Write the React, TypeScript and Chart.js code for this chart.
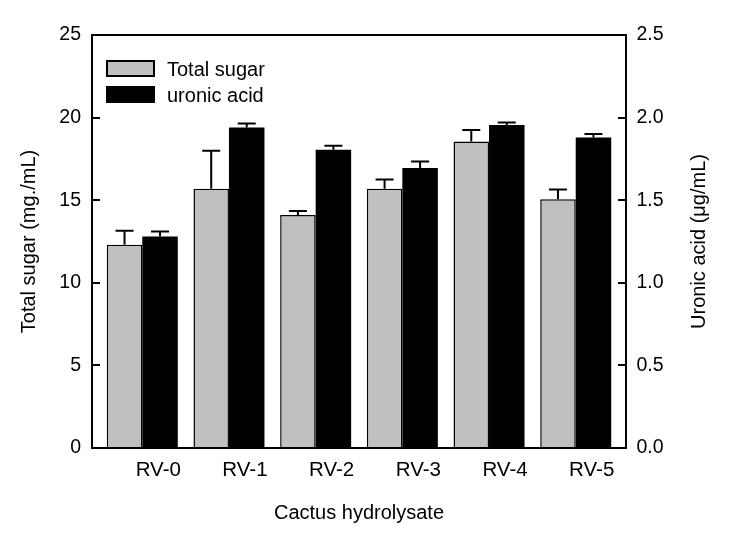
import React, { useEffect, useRef } from "react";
import { Chart, registerables } from "chart.js";

Chart.register(...registerables);

const categories = ["RV-0", "RV-1", "RV-2", "RV-3", "RV-4", "RV-5"];
const totalSugar = [12.3, 15.7, 14.1, 15.7, 18.55, 15.05];
const totalSugarErr = [0.85, 2.3, 0.25, 0.55, 0.7, 0.6];
const uronicAcid = [1.28, 1.94, 1.805, 1.695, 1.955, 1.88];
const uronicAcidErr = [0.03, 0.025, 0.025, 0.04, 0.015, 0.02];
const leftTicks = [0, 5, 10, 15, 20, 25];
const rightTicks = [0, 0.5, 1.0, 1.5, 2.0, 2.5];

const FONT = '"Liberation Sans", Arial, Helvetica, sans-serif';
const errorsByDataset = [totalSugarErr, uronicAcidErr];

const decorPlugin = {
  id: "decor",
  afterDatasetsDraw(chart: any) {
    const ctx = chart.ctx as CanvasRenderingContext2D;
    const a = chart.chartArea;
    ctx.save();
    ctx.strokeStyle = "#000";
    ctx.fillStyle = "#000";
    // error bars
    chart.data.datasets.forEach((ds: any, di: number) => {
      const meta = chart.getDatasetMeta(di);
      const ys = chart.scales[ds.yAxisID];
      const errs = errorsByDataset[di];
      meta.data.forEach((el: any, i: number) => {
        const v = ds.data[i].y;
        const top = ys.getPixelForValue(v + errs[i]);
        ctx.lineWidth = 2;
        ctx.beginPath();
        ctx.moveTo(el.x, el.y);
        ctx.lineTo(el.x, top);
        ctx.moveTo(el.x - 9, top);
        ctx.lineTo(el.x + 9, top);
        ctx.stroke();
      });
    });
    // frame
    ctx.lineWidth = 2;
    ctx.strokeRect(a.left, a.top, a.right - a.left, a.bottom - a.top);
    // inward ticks
    const yl = chart.scales.y;
    leftTicks.forEach((t) => {
      const p = Math.round(yl.getPixelForValue(t));
      ctx.beginPath();
      ctx.moveTo(a.left, p);
      ctx.lineTo(a.left + 8, p);
      ctx.stroke();
    });
    const yr = chart.scales.y1;
    rightTicks.forEach((t) => {
      const p = Math.round(yr.getPixelForValue(t));
      ctx.beginPath();
      ctx.moveTo(a.right, p);
      ctx.lineTo(a.right - 8, p);
      ctx.stroke();
    });
    // legend
    ctx.lineWidth = 2;
    ctx.fillStyle = "#c0c0c0";
    ctx.fillRect(107, 61, 47, 15);
    ctx.strokeRect(107, 61, 47, 15);
    ctx.fillStyle = "#000";
    ctx.fillRect(106, 86, 49, 17);
    ctx.font = `20px ${FONT}`;
    ctx.textAlign = "left";
    ctx.textBaseline = "alphabetic";
    ctx.fillText("Total sugar", 167, 76);
    ctx.fillText("uronic acid", 167, 101.5);
    // axis titles
    ctx.textAlign = "center";
    ctx.fillText("Cactus hydrolysate", (a.left + a.right) / 2, 519);
    const cy = (a.top + a.bottom) / 2;
    ctx.save();
    ctx.translate(35, cy);
    ctx.rotate(-Math.PI / 2);
    ctx.fillText("Total sugar (mg./mL)", 0, 0);
    ctx.restore();
    ctx.save();
    ctx.translate(705, cy);
    ctx.rotate(-Math.PI / 2);
    ctx.fillText("Uronic acid (\u03BCg/mL)", 0, 0);
    ctx.restore();
    ctx.restore();
  },
};

export default function App() {
  const ref = useRef<HTMLCanvasElement>(null);
  useEffect(() => {
    const tickFont = { family: FONT, size: 19.5 };
    const chart = new Chart(ref.current as HTMLCanvasElement, {
      type: "bar",
      data: {
        datasets: [
          {
            label: "Total sugar",
            data: totalSugar.map((y, i) => ({ x: i, y })),
            backgroundColor: "#c0c0c0",
            borderColor: "#000",
            borderWidth: 1.5,
            yAxisID: "y",
          },
          {
            label: "uronic acid",
            data: uronicAcid.map((y, i) => ({ x: i, y })),
            backgroundColor: "#000",
            borderWidth: 0,
            yAxisID: "y1",
          },
        ],
      } as any,
      options: {
        animation: false,
        responsive: false,
        devicePixelRatio: 1,
        events: [],
        layout: { padding: { top: 35, left: 0, right: 0, bottom: 0 } },
        datasets: { bar: { barPercentage: 1, categoryPercentage: 0.819 } },
        plugins: { legend: { display: false }, tooltip: { enabled: false }, title: { display: false } },
        scales: {
          x: {
            type: "linear",
            offset: false,
            min: -0.58,
            max: 5.58,
            grid: { display: false, drawTicks: false, offset: false },
            border: { display: false },
            afterBuildTicks: (s: any) => {
              s.ticks = categories.map((_, i) => ({ value: i }));
            },
            afterFit: (s: any) => {
              s.height = 85;
            },
            ticks: {
              autoSkip: false,
              maxRotation: 0,
              padding: 10,
              labelOffset: 16,
              color: "#000",
              font: { family: FONT, size: 20.5 },
              callback: (v: any) => categories[v as number],
            },
          },
          y: {
            type: "linear",
            position: "left",
            min: 0,
            max: 25,
            grid: { display: false, drawTicks: false },
            border: { display: false },
            afterBuildTicks: (s: any) => {
              s.ticks = leftTicks.map((v) => ({ value: v }));
            },
            afterFit: (s: any) => {
              s.width = 92;
            },
            ticks: { padding: 11, color: "#000", font: tickFont, callback: (v: any) => String(v) },
          },
          y1: {
            type: "linear",
            position: "right",
            min: 0,
            max: 2.5,
            grid: { display: false, drawTicks: false },
            border: { display: false },
            afterBuildTicks: (s: any) => {
              s.ticks = rightTicks.map((v) => ({ value: v }));
            },
            afterFit: (s: any) => {
              s.width = 105;
            },
            ticks: { padding: 10.5, color: "#000", font: tickFont, callback: (v: any) => Number(v).toFixed(1) },
          },
        },
      } as any,
      plugins: [decorPlugin],
    });
    return () => chart.destroy();
  }, []);
  return (
    <div style={{ position: "absolute", left: 0, top: 0, width: 731, height: 533, background: "#fff" }}>
      <canvas ref={ref} width={731} height={533} style={{ display: "block", width: 731, height: 533 }} />
    </div>
  );
}
